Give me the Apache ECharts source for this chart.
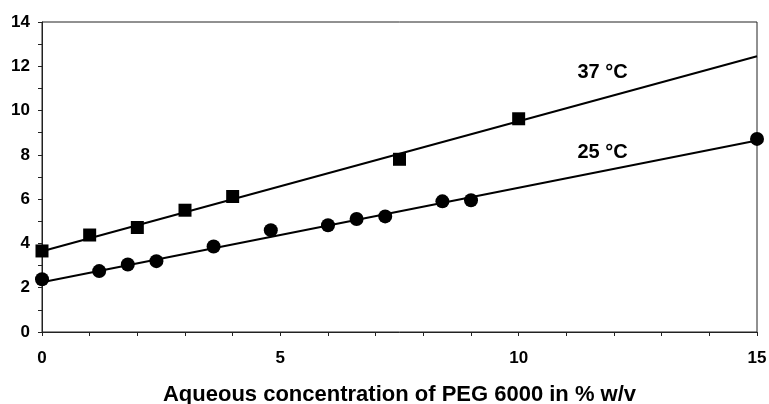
<!DOCTYPE html>
<html><head><meta charset="utf-8">
<script src="https://cdn.jsdelivr.net/npm/echarts@6/dist/echarts.min.js"></script>
<style>html,body{margin:0;padding:0;background:#fff}#c{width:769px;height:404px}</style>
</head><body><div id="c"></div>
<script>
var sq37X = [0, 1, 2, 3, 4, 7.5, 10];
var sq37Y = [3.66, 4.38, 4.72, 5.5, 6.12, 7.8, 9.63];
var ci25X = [0, 1.2, 1.8, 2.4, 3.6, 4.8, 6.0, 6.6, 7.2, 8.4, 9.0, 15];
var ci25Y = [2.38, 2.75, 3.05, 3.2, 3.86, 4.6, 4.82, 5.1, 5.22, 5.9, 5.95, 8.72];
var fitX = [0, 15];
var fit37Y = [3.65, 12.45];
var fit25Y = [2.25, 8.65];
var seriesLabels = ['37 °C', '25 °C'];
var labelX = [11.76, 11.76];
var labelY = [11.72, 8.11];
var xTitle = 'Aqueous concentration of PEG 6000 in % w/v';

function zip(a, b) { return a.map(function (v, i) { return [v, b[i]]; }); }
var font = 'Liberation Sans, Arial, sans-serif';
var chart = echarts.init(document.getElementById('c'));
chart.setOption({
  animation: false,
  grid: { left: 42, right: 12, top: 22, bottom: 72, show: true, borderColor: '#222', borderWidth: 1,
    containLabel: false, outerBoundsMode: 'none' },
  xAxis: {
    type: 'value', min: 0, max: 15, interval: 1,
    name: xTitle, nameLocation: 'middle', nameGap: 52,
    nameTextStyle: { fontFamily: font, fontWeight: 'bold', fontSize: 22, color: '#000' },
    axisLine: { lineStyle: { color: '#222', width: 1 } },
    axisTick: { length: 4, lineStyle: { color: '#222' } },
    splitLine: { show: false },
    axisLabel: { margin: 18, fontFamily: font, fontWeight: 'bold', fontSize: 17, color: '#000',
      formatter: function (v) { return v % 5 === 0 ? String(v) : ''; } }
  },
  yAxis: {
    type: 'value', min: 0, max: 14, interval: 1,
    axisLine: { show: true, lineStyle: { color: '#222', width: 1 } },
    axisTick: { show: true, length: 4, lineStyle: { color: '#222' } },
    splitLine: { show: false },
    axisLabel: { margin: 12, fontFamily: font, fontWeight: 'bold', fontSize: 17, color: '#000',
      formatter: function (v) { return v % 2 === 0 ? String(v) : ''; } }
  },
  series: [
    { type: 'line', data: zip(fitX, fit37Y), symbol: 'none', lineStyle: { color: '#000', width: 2 }, z: 2,
      markPoint: { symbolSize: 0, data: [{ coord: [labelX[0], labelY[0]], value: seriesLabels[0] }],
        label: { show: true, formatter: '{c}', fontFamily: font, fontWeight: 'bold', fontSize: 20, color: '#000', position: 'inside' } } },
    { type: 'line', data: zip(fitX, fit25Y), symbol: 'none', lineStyle: { color: '#000', width: 2 }, z: 2,
      markPoint: { symbolSize: 0, data: [{ coord: [labelX[1], labelY[1]], value: seriesLabels[1] }],
        label: { show: true, formatter: '{c}', fontFamily: font, fontWeight: 'bold', fontSize: 20, color: '#000', position: 'inside' } } },
    { type: 'scatter', data: zip(sq37X, sq37Y), symbol: 'rect', symbolSize: 13, itemStyle: { color: '#000', opacity: 1 }, z: 3 },
    { type: 'scatter', data: zip(ci25X, ci25Y), symbol: 'circle', symbolSize: 14, itemStyle: { color: '#000', opacity: 1 }, z: 3 }
  ]
});
</script></body></html>
